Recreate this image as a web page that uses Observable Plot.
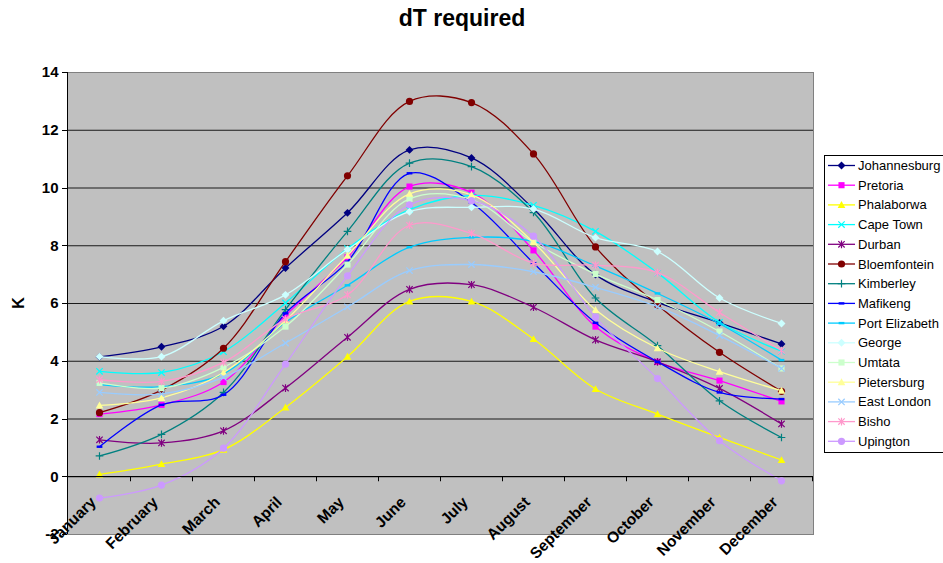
<!DOCTYPE html>
<html><head><meta charset="utf-8">
<script src="https://cdn.jsdelivr.net/npm/d3@7"></script>
<script src="https://cdn.jsdelivr.net/npm/@observablehq/plot@0.6"></script>
<style>
body{margin:0;background:#fff;}
svg{font-family:"Liberation Sans",Arial,sans-serif;}
</style>
</head><body><div id="chart"></div>
<script>
const months = ["January","February","March","April","May","June","July","August","September","October","November","December"];
const cities = ["Johannesburg","Pretoria","Phalaborwa","Cape Town","Durban","Bloemfontein","Kimberley","Mafikeng","Port Elizabeth","George","Umtata","Pietersburg","East London","Bisho","Upington"];
const colors = ["#000080","#FF00FF","#FFFF00","#00FFFF","#800080","#800000","#008080","#0000FF","#00CCFF","#CCFFFF","#CCFFCC","#FFFF99","#99CCFF","#FF99CC","#CC99FF"];
const markerKinds = ["diamond","square","triangle","times","star","circle","plus","dash","dash","diamond","square","triangle","times","star","circle"];

const johannesburg  = [4.15, 4.50, 5.21, 7.23, 9.14, 11.32, 11.04, 9.28, 7.00, 6.04, 5.33, 4.60];
const pretoria      = [2.17, 2.49, 3.28, 5.58, 7.60, 10.05, 9.84, 7.84, 5.20, 3.98, 3.33, 2.61];
const phalaborwa    = [0.08, 0.44, 0.94, 2.40, 4.16, 6.07, 6.07, 4.77, 3.04, 2.17, 1.36, 0.58];
const capeTown      = [3.65, 3.61, 4.33, 6.02, 7.90, 9.25, 9.74, 9.40, 8.50, 7.06, 5.35, 4.35];
const durban        = [1.28, 1.17, 1.59, 3.07, 4.83, 6.49, 6.65, 5.87, 4.74, 3.98, 3.06, 1.83];
const bloemfontein  = [2.22, 3.00, 4.45, 7.45, 10.42, 13.00, 12.96, 11.18, 7.96, 5.95, 4.31, 2.96];
const kimberley     = [0.72, 1.47, 2.92, 5.79, 8.50, 10.86, 10.74, 9.15, 6.19, 4.54, 2.63, 1.36];
const mafikeng      = [1.04, 2.49, 2.84, 5.66, 7.45, 10.51, 9.50, 7.40, 5.33, 3.98, 2.92, 2.69];
const portElizabeth = [3.19, 3.12, 3.57, 5.35, 6.63, 7.95, 8.29, 8.15, 7.30, 6.35, 5.30, 4.04];
const george        = [4.16, 4.16, 5.40, 6.30, 7.87, 9.18, 9.33, 9.27, 8.28, 7.80, 6.19, 5.31];
const umtata        = [3.25, 3.07, 3.79, 5.20, 7.35, 9.62, 9.60, 8.12, 7.02, 6.12, 5.03, 3.75];
const pietersburg   = [2.47, 2.73, 3.61, 5.41, 7.66, 9.80, 9.76, 8.12, 5.78, 4.45, 3.64, 2.98];
const eastLondon    = [2.92, 2.87, 3.44, 4.63, 5.88, 7.14, 7.35, 7.10, 6.56, 5.89, 4.89, 3.75];
const bisho         = [3.36, 3.30, 3.96, 5.46, 6.30, 8.71, 8.43, 7.40, 7.33, 7.07, 5.69, 4.37];
const upington      = [-0.74, -0.29, 0.99, 3.90, 6.96, 9.42, 9.56, 8.33, 5.53, 3.40, 1.25, -0.14];

const yTicks = [-2, 0, 2, 4, 6, 8, 10, 12, 14];
const titleText = "dT required";
const yLabel = "K";

const seriesValues = [johannesburg, pretoria, phalaborwa, capeTown, durban, bloemfontein, kimberley, mafikeng, portElizabeth, george, umtata, pietersburg, eastLondon, bisho, upington];
const rows = cities.flatMap((c, i) => months.map((m, j) => ({city: c, month: m, value: seriesValues[i][j]})));

// marker shapes
const sym = {
  diamond: {draw(ctx, size) { const r = Math.sqrt(size) * 0.62; ctx.moveTo(0, -r); ctx.lineTo(r, 0); ctx.lineTo(0, r); ctx.lineTo(-r, 0); ctx.closePath(); }},
  square: {draw(ctx, size) { const r = Math.sqrt(size) * 0.48; ctx.rect(-r, -r, 2 * r, 2 * r); }},
  triangle: {draw(ctx, size) { const r = Math.sqrt(size) * 0.6; ctx.moveTo(0, -r); ctx.lineTo(r, r * 0.8); ctx.lineTo(-r, r * 0.8); ctx.closePath(); }},
  circle: {draw(ctx, size) { const r = Math.sqrt(size / Math.PI); ctx.moveTo(r, 0); ctx.arc(0, 0, r, 0, 2 * Math.PI); }},
  dash: {draw(ctx, size) { const r = Math.sqrt(size) * 0.45; ctx.rect(-r, -1.2, 2 * r, 2.4); }},
  times: {draw(ctx, size) { const r = Math.sqrt(size) * 0.5; ctx.moveTo(-r, -r); ctx.lineTo(r, r); ctx.moveTo(-r, r); ctx.lineTo(r, -r); }},
  plus: {draw(ctx, size) { const r = Math.sqrt(size) * 0.6; ctx.moveTo(-r, 0); ctx.lineTo(r, 0); ctx.moveTo(0, -r); ctx.lineTo(0, r); }},
  star: {draw(ctx, size) { const r = Math.sqrt(size) * 0.5; ctx.moveTo(-r, -r); ctx.lineTo(r, r); ctx.moveTo(-r, r); ctx.lineTo(r, -r); ctx.moveTo(0, -r * 1.2); ctx.lineTo(0, r * 1.2); }}
};
const stroked = new Set(["times", "plus", "star"]);

const W = 943, H = 563;
const mLeft = 67, mRight = 130, mTop = 72, mBottom = 29;

const marks = [
  Plot.frame({fill: "#C0C0C0"}),
  Plot.ruleY(yTicks.filter(v => v > -2 && v < 14), {stroke: "#1a1a1a", strokeWidth: 1}),
  Plot.frame({stroke: "#808080"})
];
cities.forEach((c, i) => {
  const data = rows.filter(d => d.city === c);
  const k = markerKinds[i];
  marks.push(Plot.line(data, {x: "month", y: "value", stroke: colors[i], strokeWidth: 1.3, curve: "catmull-rom"}));
  marks.push(Plot.dot(data, {x: "month", y: "value", r: 3.6, symbol: sym[k],
    fill: stroked.has(k) ? "none" : colors[i], stroke: stroked.has(k) ? colors[i] : "none", strokeWidth: 1.2}));
});
marks.push(Plot.text(yTicks, {y: d => d, frameAnchor: "left", dx: -9, textAnchor: "end", text: d => String(d), fontWeight: "bold", fontSize: 15, fill: "#000"}));

const chart = Plot.plot({
  width: W, height: H,
  marginLeft: mLeft, marginRight: mRight, marginTop: mTop, marginBottom: mBottom,
  x: {type: "point", domain: months, padding: 0.5, axis: null},
  y: {domain: [-2, 14], axis: null},
  style: {fontFamily: '"Liberation Sans", Arial, sans-serif', background: "#fff", overflow: "visible"},
  marks
});
document.getElementById("chart").appendChild(chart);

// axes decorations using Plot's scales
const sx = chart.scale("x"), sy = chart.scale("y");
const svg = d3.select(chart);
const step = sx.apply(months[1]) - sx.apply(months[0]);
const y0 = sy.apply(0);
const g = svg.append("g").attr("stroke", "#000").attr("stroke-width", 1);
g.append("line").attr("x1", mLeft + 0.5).attr("x2", mLeft + 0.5).attr("y1", sy.apply(14)).attr("y2", sy.apply(-2));
yTicks.forEach(v => g.append("line").attr("x1", mLeft - 5).attr("x2", mLeft).attr("y1", Math.round(sy.apply(v)) + 0.5).attr("y2", Math.round(sy.apply(v)) + 0.5));
g.append("line").attr("x1", mLeft).attr("x2", W - mRight).attr("y1", Math.round(y0) + 0.5).attr("y2", Math.round(y0) + 0.5);
months.forEach(m => {
  const bx = Math.round(sx.apply(m) + step / 2) + 0.5;
  g.append("line").attr("x1", bx).attr("x2", bx).attr("y1", y0).attr("y2", y0 + 5);
});
// x labels
months.forEach(m => {
  svg.append("text").attr("transform", `translate(${sx.apply(m) - 6},${y0 + 23}) rotate(-45)`)
    .attr("text-anchor", "end").attr("dy", "0.35em").attr("font-weight", "bold").attr("font-size", 15.5).attr("fill", "#000").text(m);
});
// title and y label
svg.append("text").attr("x", 462).attr("y", 26).attr("text-anchor", "middle").attr("font-weight", "bold").attr("font-size", 23).attr("fill", "#000").text(titleText);
svg.append("text").attr("transform", `translate(24,${(sy.apply(14) + sy.apply(-2)) / 2}) rotate(-90)`).attr("text-anchor", "middle").attr("font-weight", "bold").attr("font-size", 16).attr("fill", "#000").text(yLabel);

// legend
const lg = svg.append("g");
lg.append("rect").attr("x", 824.5).attr("y", 155.5).attr("width", 125).attr("height", 297).attr("fill", "#fff").attr("stroke", "#000");
cities.forEach((c, i) => {
  const yy = 165.5 + i * 19.7;
  lg.append("line").attr("x1", 828).attr("x2", 855).attr("y1", yy).attr("y2", yy).attr("stroke", colors[i]).attr("stroke-width", 1.3);
  const k = markerKinds[i];
  lg.append("path").attr("transform", `translate(841.5,${yy})`).attr("d", d3.symbol(sym[k], 3.6 * 3.6 * Math.PI)())
    .attr("fill", stroked.has(k) ? "none" : colors[i]).attr("stroke", stroked.has(k) ? colors[i] : "none").attr("stroke-width", 1.2);
  lg.append("text").attr("x", 858).attr("y", yy).attr("dy", "0.35em").attr("text-anchor", "start").attr("font-size", 13).attr("fill", "#000").text(c);
});
</script>
</body></html>
